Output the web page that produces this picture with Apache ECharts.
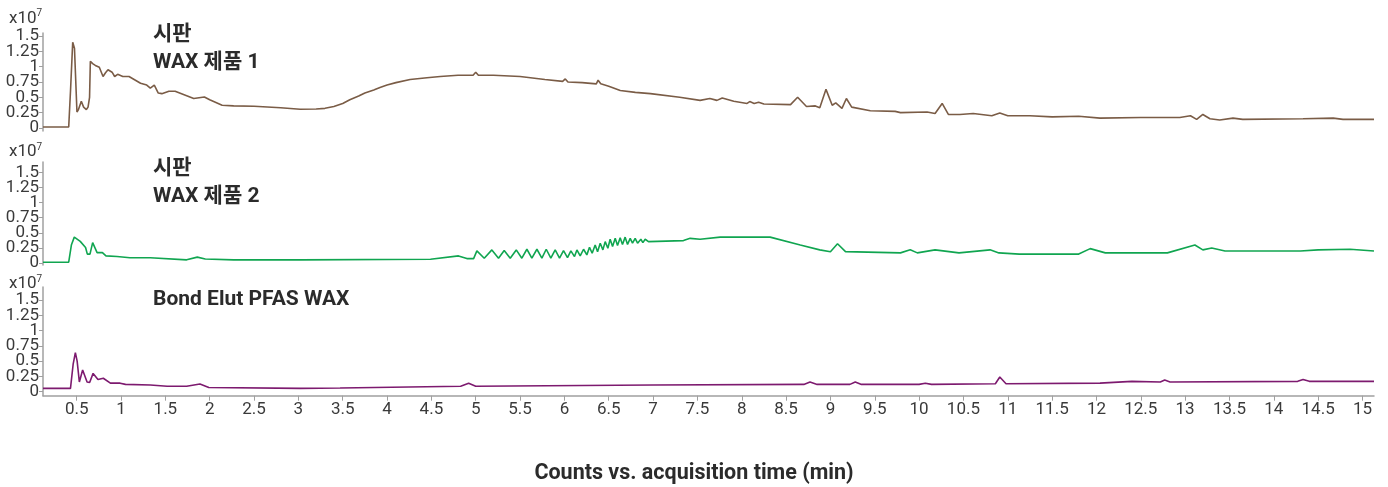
<!DOCTYPE html>
<html>
<head>
<meta charset="utf-8">
<script src="https://cdn.jsdelivr.net/npm/echarts@6/dist/echarts.min.js"></script>
<style>
html,body{margin:0;padding:0;background:#fff;}
#chart{width:1388px;height:487px;}
</style>
</head>
<body>
<div id="chart"></div>
<script>
// Units: counts x10^7, time in minutes
var xTicks = [0.5,1,1.5,2,2.5,3,3.5,4,4.5,5,5.5,6,6.5,7,7.5,8,8.5,9,9.5,10,10.5,11,11.5,12,12.5,13,13.5,14,14.5,15];
var yTicks = [0,0.25,0.5,0.75,1,1.25,1.5];

var panelTitles = [["시판","WAX 제품 1"],["시판","WAX 제품 2"],["Bond Elut PFAS WAX"]];
var xAxisTitle = "Counts vs. acquisition time (min)";

var time1 = [0.12,0.41,0.43,0.455,0.475,0.503,0.52,0.552,0.578,0.609,0.628,0.645,0.654,0.68,0.71,0.755,0.775,0.797,0.825,0.853,0.875,0.899,0.928,0.962,1.02,1.09,1.22,1.29,1.33,1.375,1.42,1.46,1.54,1.61,1.82,1.94,2.0,2.14,2.27,2.5,2.8,3.02,3.2,3.3,3.4,3.5,3.58,3.68,3.75,3.85,3.92,4.0,4.1,4.26,4.45,4.6,4.8,4.97,5.0,5.03,5.2,5.5,5.78,5.98,6.01,6.04,6.2,6.36,6.38,6.41,6.5,6.63,6.8,6.97,7.3,7.53,7.64,7.72,7.78,7.91,8.06,8.09,8.14,8.19,8.25,8.55,8.63,8.73,8.83,8.88,8.95,9.02,9.06,9.13,9.18,9.24,9.45,9.73,9.79,10.09,10.18,10.26,10.33,10.46,10.61,10.82,10.91,11.0,11.25,11.5,11.8,12.04,12.5,12.94,13.06,13.13,13.2,13.28,13.39,13.54,13.65,14.33,14.67,14.78,15.13];
var sig1 = [0.016,0.016,0.6,1.40,1.3,0.26,0.3,0.435,0.34,0.30,0.34,0.5,1.09,1.05,1.02,0.99,1.0,0.84,0.9,0.95,0.93,0.91,0.84,0.875,0.84,0.84,0.73,0.70,0.65,0.70,0.57,0.56,0.60,0.60,0.48,0.505,0.46,0.37,0.36,0.355,0.33,0.305,0.31,0.32,0.35,0.40,0.46,0.52,0.57,0.62,0.66,0.70,0.74,0.79,0.82,0.84,0.86,0.86,0.91,0.86,0.86,0.84,0.79,0.76,0.80,0.75,0.74,0.72,0.78,0.72,0.68,0.61,0.58,0.56,0.50,0.45,0.48,0.45,0.49,0.435,0.40,0.43,0.40,0.42,0.39,0.38,0.50,0.35,0.36,0.33,0.63,0.37,0.41,0.32,0.48,0.34,0.28,0.27,0.25,0.26,0.235,0.40,0.22,0.22,0.235,0.20,0.245,0.2,0.2,0.18,0.19,0.16,0.17,0.17,0.20,0.14,0.22,0.15,0.13,0.16,0.14,0.15,0.16,0.14,0.14];

var time2 = [0.12,0.41,0.44,0.473,0.54,0.60,0.62,0.65,0.68,0.73,0.79,0.83,0.955,1.10,1.33,1.74,1.86,1.95,2.27,3.02,4.49,4.506,4.806,4.90,4.976,5.013,5.096,5.182,5.257,5.321,5.389,5.457,5.52,5.577,5.633,5.69,5.746,5.795,5.847,5.896,5.945,5.99,6.035,6.073,6.114,6.141,6.178,6.216,6.253,6.283,6.313,6.347,6.374,6.404,6.434,6.46,6.49,6.516,6.543,6.573,6.599,6.629,6.655,6.685,6.712,6.742,6.768,6.798,6.825,6.862,6.885,6.911,6.948,7.343,7.418,7.53,7.757,7.98,8.32,8.66,8.88,9.0,9.08,9.17,9.79,9.9,9.98,10.18,10.45,10.8,10.9,11.13,11.8,11.93,12.1,12.8,13.11,13.2,13.3,13.45,14.3,14.5,14.86,15.13];
var sig2 = [0.016,0.016,0.30,0.43,0.36,0.26,0.15,0.15,0.34,0.175,0.175,0.12,0.11,0.09,0.09,0.055,0.10,0.07,0.055,0.055,0.066,0.087,0.12,0.076,0.076,0.203,0.082,0.219,0.082,0.208,0.082,0.219,0.082,0.23,0.082,0.23,0.082,0.23,0.082,0.219,0.082,0.208,0.093,0.203,0.109,0.219,0.12,0.23,0.137,0.263,0.164,0.30,0.19,0.33,0.22,0.356,0.247,0.395,0.274,0.41,0.29,0.42,0.31,0.43,0.31,0.41,0.33,0.41,0.33,0.395,0.34,0.395,0.356,0.373,0.41,0.395,0.43,0.43,0.43,0.30,0.22,0.19,0.32,0.19,0.17,0.22,0.17,0.22,0.17,0.22,0.17,0.15,0.15,0.24,0.17,0.17,0.30,0.22,0.25,0.20,0.20,0.22,0.23,0.20];

var time3 = [0.12,0.43,0.46,0.485,0.505,0.53,0.567,0.617,0.646,0.685,0.74,0.80,0.88,0.99,1.05,1.33,1.52,1.74,1.89,1.99,3.02,3.47,4.83,4.92,5.0,7.0,8.7,8.77,8.85,9.22,9.28,9.35,10.0,10.07,10.14,10.86,10.91,10.98,12.04,12.4,12.72,12.77,12.83,14.27,14.33,14.4,15.13];
var sig3 = [0.055,0.055,0.45,0.64,0.50,0.16,0.355,0.16,0.15,0.30,0.20,0.22,0.14,0.14,0.12,0.11,0.09,0.09,0.125,0.07,0.055,0.06,0.09,0.14,0.09,0.11,0.12,0.16,0.12,0.12,0.16,0.12,0.12,0.14,0.12,0.13,0.24,0.13,0.14,0.17,0.16,0.19,0.16,0.17,0.20,0.17,0.17];

function zip(t, v){ var out=[]; for (var i=0;i<t.length;i++) out.push([t[i], v[i]]); return out; }

var FONT = "Roboto, 'Noto Sans CJK KR', sans-serif";
var colors = ['#7a5c46', '#10a550', '#7d1a6f'];
var grids = [
  {left:43, right:14, top:33, height:98},
  {left:43, right:14, top:162, height:103},
  {left:43, right:14, top:287, height:108.7}
];
var yRanges = [[-0.05,1.55],[-0.03,1.67],[-0.065,1.713]];
var series = [zip(time1,sig1), zip(time2,sig2), zip(time3,sig3)];

// split the y tick labels into two alternating sets so none get hidden as overlapping
var yLabelsA = yTicks.filter(function(v,i){return i%2===0;});
var yLabelsB = yTicks.filter(function(v,i){return i%2===1;});

var xAxes = [], yAxes = [], ser = [];
for (var i=0;i<3;i++){
  var last = i===2;
  xAxes.push({
    type:'value', gridIndex:i, min:0.12, max:15.13,
    show:last,
    axisLine:{show:last, onZero:false, lineStyle:{color:'#a0a0a0', width:1.5}},
    axisTick:{show:last, customValues:xTicks, length:5, lineStyle:{color:'#a0a0a0'}},
    axisLabel:{show:last, customValues:xTicks, color:'#3a3a3a', fontSize:17, fontFamily:FONT, margin:6},
    splitLine:{show:false}
  });
  yAxes.push({
    type:'value', gridIndex:i, min:yRanges[i][0], max:yRanges[i][1],
    axisLine:{show:true, onZero:false, lineStyle:{color:'#a0a0a0', width:1.5}},
    axisTick:{show:true, customValues:yTicks, length:4, lineStyle:{color:'#a0a0a0'}},
    axisLabel:{customValues:yLabelsA, color:'#3a3a3a', fontSize:17, fontFamily:FONT, margin:4},
    splitLine:{show:false}
  });
  yAxes.push({
    type:'value', gridIndex:i, min:yRanges[i][0], max:yRanges[i][1], position:'left',
    axisLine:{show:false, onZero:false},
    axisTick:{show:false},
    axisLabel:{customValues:yLabelsB, color:'#3a3a3a', fontSize:17, fontFamily:FONT, margin:4},
    splitLine:{show:false}
  });
  ser.push({
    type:'line', xAxisIndex:i, yAxisIndex:2*i, data:series[i], showSymbol:false, symbol:'none',
    lineStyle:{color:colors[i], width:1.6}, silent:true, animation:false
  });
}

var exponentY = [19, 152, 284];
var graphics = [];
for (var k=0;k<3;k++){
  graphics.push({
    type:'text', left:9, top:exponentY[k]-10,
    style:{text:'{a|x10}{b|7}', rich:{a:{fontSize:17, fontFamily:FONT, fill:'#3a3a3a'}, b:{fontSize:10, fontFamily:FONT, fill:'#3a3a3a', verticalAlign:'top', padding:[0,0,9,0]}}}
  });
}
var titleTops = [[24,52],[158,186],[289]];
for (var p=0;p<3;p++){
  for (var q=0;q<panelTitles[p].length;q++){
    graphics.push({type:'text', left:153, top:titleTops[p][q],
      style:{text:panelTitles[p][q], fontSize:21, fontWeight:'bold', fontFamily:FONT, fill:'#2b2b2b'}});
  }
}
graphics.push({type:'text', left:'center', top:463,
  style:{text:xAxisTitle, fontSize:21.5, fontWeight:'bold', fontFamily:FONT, fill:'#2b2b2b'}});

var chart = echarts.init(document.getElementById('chart'), null, {renderer:'canvas'});
chart.setOption({
  animation:false,
  grid:grids, xAxis:xAxes, yAxis:yAxes, series:ser, graphic:graphics
});
</script>
</body>
</html>
